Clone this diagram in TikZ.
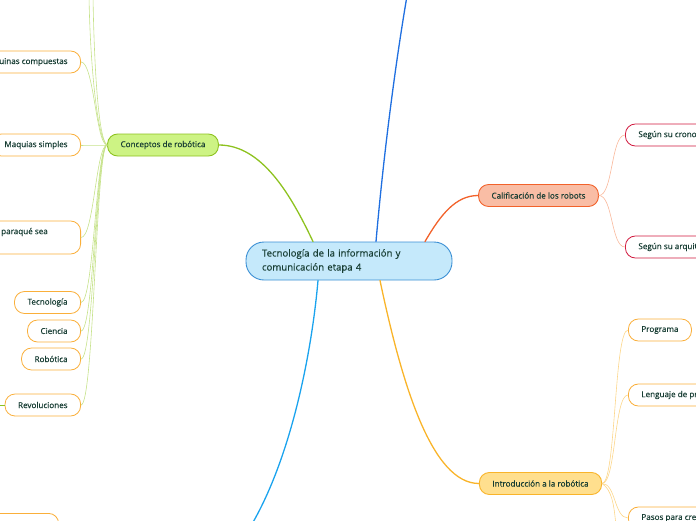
\documentclass[tikz,border=0pt]{standalone}
\usepackage{fontspec}
\setmainfont{Open Sans}[FakeBold=0.35]
\definecolor{txt}{HTML}{173D33}
\definecolor{centrofill}{HTML}{C5E9FB}
\definecolor{centrodraw}{HTML}{3B8FD4}
\definecolor{concfill}{HTML}{CDF384}
\definecolor{concdraw}{HTML}{8DC21F}
\definecolor{conclight}{HTML}{C6E28A}
\definecolor{califfill}{HTML}{F9BDA5}
\definecolor{califdraw}{HTML}{F2622B}
\definecolor{califlight}{HTML}{F9B89B}
\definecolor{introfill}{HTML}{FFDF8E}
\definecolor{introdraw}{HTML}{F9B42A}
\definecolor{introlight}{HTML}{FCD68A}
\definecolor{leafor}{HTML}{FAAF3A}
\definecolor{leafred}{HTML}{D1193E}
\definecolor{azul}{HTML}{1F6FE0}
\definecolor{celeste}{HTML}{1AA3EE}
\begin{document}
\begin{tikzpicture}[x=1pt,y=-1pt,line cap=round,line join=round,
  every node/.style={font=\fontsize{8.1}{9.5}\selectfont,text=txt},
  topic/.style={draw,line width=0.9pt,rounded corners=10pt,minimum height=22pt,inner xsep=13pt},
  leaf/.style={draw=leafor,fill=white,line width=0.8pt,rounded corners=10pt,minimum height=22pt,inner xsep=13pt},
  leafr/.style={leaf,draw=leafred},
  rama/.style={line width=1.3pt},
  hijo/.style={line width=0.6pt}]
  \useasboundingbox (0,0) rectangle (696,520);
  \clip (0,0) rectangle (696,520);
  % centre
  \node[draw=centrodraw,fill=centrofill,line width=0.9pt,rounded corners=18pt,
    minimum height=38pt,inner xsep=16pt,text width=174pt,align=left,
    font=\fontsize{9.6}{14}\selectfont] (centro) at (349,261)
    {Tecnología de la información y\\comunicación etapa 4};
  % main topics
  \node[topic,fill=concfill,draw=concdraw] (conc) at (163,145) {Conceptos de robótica};
  \node[topic,fill=califfill,draw=califdraw] (calif) at (538.5,195.5) {Calificación de los robots};
  \node[topic,fill=introfill,draw=introdraw] (intro) at (540.5,483.5) {Introducción a la robótica};
  \coordinate (arribaazul) at (407,-4);
  \coordinate (abajoceleste) at (252,524);
  % left leaves
  \node[leaf,anchor=east] (maqcomp) at (81,62) {Maquinas compuestas};
  \node[leaf,anchor=east] (maqsimp) at (81,145) {Maquias simples};
  \node[leaf,anchor=east,minimum height=33pt,minimum width=140pt] (parabox) at (81,237.5) {};
  \node[anchor=east,inner sep=0pt] (paratxt) at (48,232) {paraqué sea};
  \node[leaf,anchor=east] (tecno) at (81,302.5) {Tecnología};
  \node[leaf,anchor=east] (ciencia) at (81,331) {Ciencia};
  \node[leaf,anchor=east] (robo) at (81,359) {Robótica};
  \node[leaf,anchor=east] (revol) at (81,405) {Revoluciones};
  \node[leaf,anchor=north east,minimum width=90pt] (abajo) at (59,513) {};
  \coordinate (arriba1) at (89,-4);
  \coordinate (arriba2) at (93,-4);
  \coordinate (revizq) at (-6,405);
  % right leaves
  \node[leafr,anchor=west] (crono) at (625,135) {Según su cronología};
  \node[leafr,anchor=west] (arqui) at (625,247) {Según su arquitectura};
  \node[leaf,anchor=west] (prog) at (628,330) {Programa};
  \node[leaf,anchor=west] (leng) at (628,395) {Lenguaje de programación};
  \node[leaf,anchor=west] (pasos) at (628,518) {Pasos para crear un programa};
  \coordinate (introabajo) at (616,526);
  % main branches
  \draw[rama,concdraw] ([xshift=-36pt]centro.north) .. controls (291,195) and (262,145) .. (conc.east);
  \draw[rama,califdraw] ([xshift=76pt]centro.north) .. controls (441,214) and (456,195.5) .. (calif.west);
  \draw[rama,introdraw] ([xshift=31pt]centro.south) .. controls (402,385) and (432,483.5) .. (intro.west);
  \draw[rama,azul] ([xshift=27pt]centro.north) .. controls (384,150) and (396,60) .. (arribaazul);
  \draw[rama,celeste] ([xshift=-31pt]centro.south) .. controls (312,350) and (292,455) .. (abajoceleste);
  % children of Conceptos
  \foreach \h in {maqcomp,maqsimp,parabox,tecno,ciencia,robo,revol}
    \draw[hijo,conclight] (conc.west) .. controls (96,145) and ([xshift=13pt]\h.east) .. (\h.east);
  \draw[hijo,conclight] (conc.west) .. controls (97,140) and (90,60) .. (arriba1);
  \draw[hijo,conclight] (conc.west) .. controls (98,140) and (94,60) .. (arriba2);
  \draw[line width=1pt,concdraw] (revol.west) -- (revizq);
  % children of Calificacion
  \foreach \h in {crono,arqui}
    \draw[hijo,califlight] (calif.east) .. controls (613,195.5) and ([xshift=-14pt]\h.west) .. (\h.west);
  % children of Introduccion
  \foreach \h in {prog,leng,pasos}
    \draw[hijo,introlight] (intro.east) .. controls (616,483.5) and ([xshift=-14pt]\h.west) .. (\h.west);
  \draw[hijo,introlight] (intro.east) .. controls (612,490) and (614,505) .. (introabajo);
\end{tikzpicture}
\end{document}
